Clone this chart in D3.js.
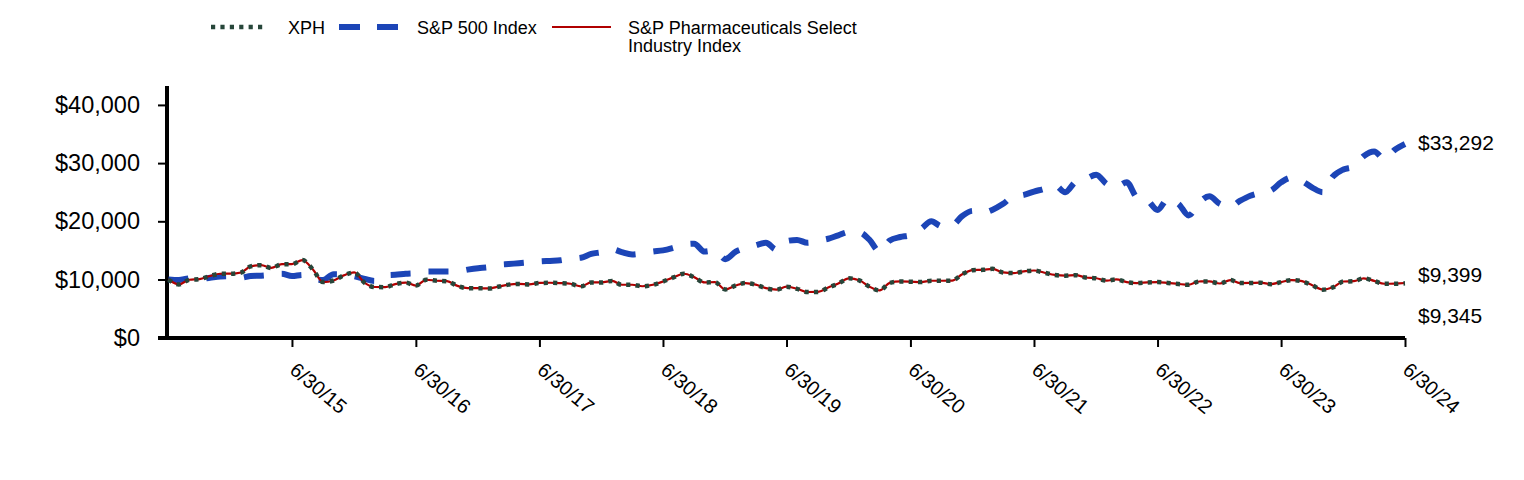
<!DOCTYPE html>
<html><head><meta charset="utf-8">
<script src="https://cdn.jsdelivr.net/npm/d3@7"></script>
<style>body{margin:0;background:#fff}</style>
</head><body><svg id="c" width="1524" height="480"></svg>
<script>
const seriesNames = ["XPH", "S&P 500 Index", "S&P Pharmaceuticals Select Industry Index"];
const tickLabels = ["6/30/15","6/30/16","6/30/17","6/30/18","6/30/19","6/30/20","6/30/21","6/30/22","6/30/23","6/30/24"];
const yTickValues = [0, 10000, 20000, 30000, 40000];

const xphValues = [10000,9150,9950,10070,10600,10980,10990,11200,12250,12470,11980,12620,12640,13330,11700,9550,9830,10700,11200,9400,
8700,8690,9200,9450,8950,9950,9780,9700,8900,8520,8500,8450,8750,9120,9230,9150,9400,9430,9370,9260,
8820,9490,9490,9760,9090,9090,8830,9090,9650,10360,10980,10400,9490,9550,8300,8970,9380,9100,8500,8250,
8750,8400,7840,7850,8600,9300,10200,9850,8800,8110,9420,9660,9620,9550,9780,9780,9800,10900,11600,11660,
11830,11200,11100,11380,11540,11150,10780,10650,10750,10340,10200,9800,10000,9550,9380,9500,9550,9400,9220,9090,
9650,9660,9300,9900,9380,9400,9450,9200,9550,9900,9700,9000,8250,8650,9650,9700,10200,9750,9260,9260,9345];

const pharmaValues = [10000,9160,9960,10080,10610,10990,11000,11210,12260,12480,11990,12630,12650,13340,11710,9560,9840,10710,11210,9410,
8710,8700,9210,9460,8960,9960,9790,9710,8910,8530,8510,8460,8760,9130,9240,9160,9410,9440,9380,9270,
8830,9500,9500,9770,9100,9100,8840,9100,9660,10370,10990,10410,9500,9560,8310,8980,9390,9110,8510,8260,
8760,8410,7850,7860,8610,9310,10210,9860,8810,8120,9430,9670,9630,9560,9790,9790,9810,10910,11610,11670,
11840,11210,11110,11390,11550,11160,10790,10660,10760,10350,10210,9810,10010,9560,9390,9510,9560,9410,9230,9100,
9660,9670,9310,9910,9390,9410,9460,9210,9560,9910,9710,9010,8260,8660,9660,9710,10210,9760,9270,9300,9399];

const sp500Values = [10000,9900,10200,10100,10300,10500,10550,10300,10600,10650,10800,11000,10600,10800,10150,9900,10900,10900,10550,10100,
9750,10700,10800,11000,11100,11350,11370,11370,11400,11700,11950,12100,12500,12650,12800,12950,13100,13200,13300,13600,
13750,14400,14700,15200,14700,14300,14500,14800,15000,15450,16000,16150,14800,15000,13500,14800,15400,15900,16300,15150,
16600,16800,16300,16650,17000,17600,18150,18100,16900,14800,16700,17300,17650,18700,20000,19150,19300,20900,21800,21500,
22000,23000,24300,24550,25100,25600,26200,25000,26800,27300,28000,26400,25900,26700,24100,23600,21950,23900,23000,21000,
23200,24300,23000,22500,23500,24400,24900,25300,26700,27500,26900,25800,25000,27700,28900,29400,31200,32000,30700,32300,33292];

const FONT = "'Liberation Sans', Arial, sans-serif";
const svg = d3.select("#c");
const dates = xphValues.map((_, i) => new Date(2014, 6 + i, 0));
const x = d3.scaleTime().domain([dates[0], dates[dates.length - 1]]).range([168.4, 1405]);
const y = d3.scaleLinear().domain([0, 43250]).range([337.7, 86]);
const fmt = d3.format("$,.0f");

// axes
const yAxis = svg.append("g").attr("transform", "translate(167,0)")
  .call(d3.axisLeft(y).tickValues(yTickValues).tickFormat(fmt).tickSize(9).tickPadding(18));
yAxis.select(".domain").attr("stroke", "#000").attr("stroke-width", 4).attr("d", `M0,${y(0)+2}V${y.range()[1]}`);
yAxis.selectAll(".tick line").attr("stroke", "#000").attr("stroke-width", 2);
yAxis.selectAll(".tick text").attr("font-family", FONT).attr("font-size", 23.5).attr("fill", "#000");

const tickDates = tickLabels.map(s => { const [m, d, yy] = s.split("/").map(Number); return new Date(2000 + yy, m - 1, d); });
const xAxis = svg.append("g").attr("transform", "translate(0,338)")
  .call(d3.axisBottom(x).tickValues(tickDates).tickFormat((d, i) => tickLabels[i]).tickSize(9));
xAxis.select(".domain").attr("stroke", "#000").attr("stroke-width", 4).attr("d", `M158,0H${x.range()[1]}`);
xAxis.selectAll(".tick line").attr("stroke", "#000").attr("stroke-width", 2);
xAxis.selectAll(".tick text").attr("font-family", FONT).attr("font-size", 20).attr("fill", "#000")
  .attr("text-anchor", "start").attr("dy", null).attr("y", 0)
  .attr("transform", "translate(-4,34) rotate(40)");

// lines
const line = d3.line().x((d, i) => x(dates[i])).y(d => y(d)).curve(d3.curveMonotoneX);
svg.append("path").datum(sp500Values).attr("d", line).attr("fill", "none")
  .attr("stroke", "#1c45b7").attr("stroke-width", 6).attr("stroke-dasharray", "20,18");
svg.append("path").datum(pharmaValues).attr("d", line).attr("fill", "none")
  .attr("stroke", "#b00000").attr("stroke-width", 2.2);
svg.append("path").datum(xphValues).attr("d", line).attr("fill", "none")
  .attr("stroke", "#27463a").attr("stroke-width", 4.5).attr("stroke-dasharray", "4.2,5.2");

// end labels
const last = a => a[a.length - 1];
const endG = svg.append("g").attr("font-family", FONT).attr("font-size", 21).attr("fill", "#000");
endG.append("text").attr("x", 1418).attr("y", y(last(sp500Values)) + 1).attr("dominant-baseline", "middle").text(fmt(last(sp500Values)));
endG.append("text").attr("x", 1418).attr("y", y(last(pharmaValues)) - 7).attr("dominant-baseline", "middle").text(fmt(last(pharmaValues)));
endG.append("text").attr("x", 1418).attr("y", y(last(xphValues)) + 34).attr("dominant-baseline", "middle").text(fmt(last(xphValues)));

// legend
const lg = svg.append("g").attr("font-family", FONT).attr("font-size", 18).attr("fill", "#000");
lg.append("line").attr("x1", 211).attr("x2", 265).attr("y1", 27).attr("y2", 27)
  .attr("stroke", "#27463a").attr("stroke-width", 4.5).attr("stroke-dasharray", "4.2,5.2");
lg.append("text").attr("x", 288).attr("y", 33.5).text(seriesNames[0]);
lg.append("line").attr("x1", 339).attr("x2", 398).attr("y1", 27).attr("y2", 27)
  .attr("stroke", "#1c45b7").attr("stroke-width", 6).attr("stroke-dasharray", "21,17");
lg.append("text").attr("x", 417).attr("y", 33.5).text(seriesNames[1]);
lg.append("line").attr("x1", 552).attr("x2", 611).attr("y1", 27).attr("y2", 27)
  .attr("stroke", "#b00000").attr("stroke-width", 2);
const t3 = lg.append("text").attr("x", 628).attr("y", 33.5);
t3.append("tspan").attr("x", 628).text("S&P Pharmaceuticals Select");
t3.append("tspan").attr("x", 628).attr("dy", 18).text("Industry Index");
</script></body></html>
